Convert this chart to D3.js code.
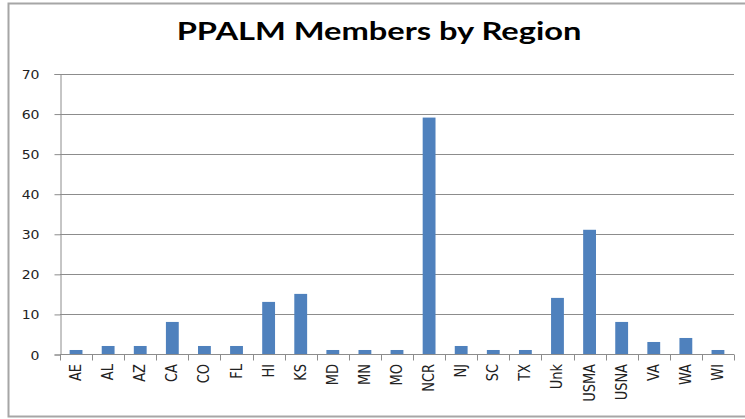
<!DOCTYPE html>
<html>
<head>
<meta charset="utf-8">
<script src="https://cdn.jsdelivr.net/npm/d3@7"></script>
<style>
  body { margin: 0; background: #fff; }
</style>
</head>
<body>
<svg id="chart" width="745" height="419"></svg>
<script>
const regions = ['AE', 'AL', 'AZ', 'CA', 'CO', 'FL', 'HI', 'KS', 'MD', 'MN', 'MO',
  'NCR', 'NJ', 'SC', 'TX', 'Unk', 'USMA', 'USNA', 'VA', 'WA', 'WI'];
const members = [1, 2, 2, 8, 2, 2, 13, 15, 1, 1, 1, 59, 2, 1, 1, 14, 31, 8, 3, 4, 1];
const yTicks = [0, 10, 20, 30, 40, 50, 60, 70];

const margin = {left: 60, right: 11, top: 73.5, bottom: 65};
const width = 745, height = 419;
const labelFont = '"DejaVu Sans", Verdana, sans-serif';

const svg = d3.select('#chart');

// chart frame
svg.append('rect')
    .attr('x', 8.5).attr('y', 3.5)
    .attr('width', 760).attr('height', 413)
    .attr('fill', 'none')
    .attr('stroke', '#a6a6a6')
    .attr('stroke-width', 2);

// picture is stretched sideways, so the title is too
svg.append('text')
    .attr('transform', 'translate(379,40) scale(1.36,1)')
    .attr('text-anchor', 'middle')
    .attr('font-family', 'Lato, "Open Sans", sans-serif')
    .attr('font-weight', 'bold')
    .attr('font-size', 24)
    .attr('fill', '#000')
    .text('PPALM Members by Region');

const x = d3.scaleBand()
    .domain(regions)
    .range([margin.left, width - margin.right])
    .paddingInner(0.6)
    .paddingOuter(0.3);

const y = d3.scaleLinear()
    .domain([0, 70])
    .range([height - margin.bottom, margin.top]);

// gridlines
svg.append('g')
    .selectAll('line')
    .data(yTicks)
    .join('line')
      .attr('x1', margin.left)
      .attr('x2', width - margin.right)
      .attr('y1', d => Math.round(y(d)) + 0.5)
      .attr('y2', d => Math.round(y(d)) + 0.5)
      .attr('stroke', '#8c8c8c');

svg.append('g')
    .selectAll('rect')
    .data(members)
    .join('rect')
      .attr('x', (d, i) => x(regions[i]))
      .attr('width', x.bandwidth())
      .attr('y', d => y(d))
      .attr('height', d => y(0) - y(d))
      .attr('fill', '#4f81bd');

// y axis
const yAxis = svg.append('g')
    .attr('transform', `translate(${margin.left + 0.5},0.5)`)
    .call(d3.axisLeft(y).tickValues(yTicks).tickSize(6).tickPadding(20));
yAxis.selectAll('path, line').attr('stroke', '#8c8c8c');
yAxis.selectAll('.tick text')
    .attr('x', null)
    .attr('dy', null)
    .attr('transform', 'translate(-21,4.5) scale(1.22,1)')
    .attr('font-family', labelFont)
    .attr('font-size', 11.5)
    .attr('fill', '#222');

// x axis, ticks sit on category boundaries
const step = x.step();
const xAxis = svg.append('g')
    .attr('transform', `translate(0,${Math.round(y(0)) + 0.5})`);
xAxis.append('line')
    .attr('x1', margin.left).attr('x2', width - margin.right)
    .attr('stroke', '#8c8c8c');
xAxis.selectAll('.xt')
    .data(d3.range(regions.length + 1))
    .join('line')
      .attr('class', 'xt')
      .attr('x1', i => Math.round(margin.left + i * step) + 0.5)
      .attr('x2', i => Math.round(margin.left + i * step) + 0.5)
      .attr('y1', 0).attr('y2', 6)
      .attr('stroke', '#8c8c8c');
xAxis.selectAll('text')
    .data(regions)
    .join('text')
      .attr('transform', d => `translate(${x(d) + x.bandwidth() / 2 + 5},9.5) scale(1.2,1) rotate(-90)`)
      .attr('text-anchor', 'end')
      .attr('font-family', labelFont)
      .attr('font-size', 13)
      .attr('fill', '#222')
      .text(d => d);
</script>
</body>
</html>
